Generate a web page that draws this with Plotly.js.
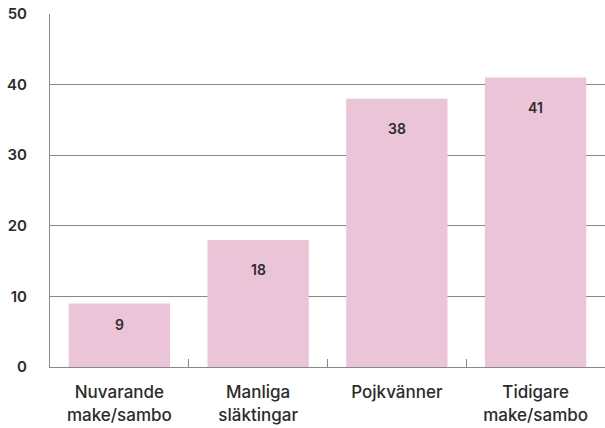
<!DOCTYPE html>
<html><head><meta charset="utf-8">
<script src="https://cdn.plot.ly/plotly-3.0.1.min.js"></script>
<style>html,body{margin:0;padding:0;background:#fff}#c{width:605px;height:428px}</style>
</head><body><div id="c"></div>
<script>
const categories = ["Nuvarande<br>make/sambo", "Manliga<br>släktingar", "Pojkvänner", "Tidigare<br>make/sambo"];
const values = [9, 18, 38, 41];
const yTicks = [0, 10, 20, 30, 40, 50];

const plotH = 428 - 14 - 61;
const pxPerUnit = plotH / 50;
const annotations = categories.map((c, i) => ({
  x: c, y: values[i], xref: 'x', yref: 'y',
  text: String(values[i]), showarrow: false,
  yanchor: 'middle', yshift: -Math.min(30, values[i] * pxPerUnit / 3),
  font: {family: 'Inter, sans-serif', size: 14, color: '#2b2b2b', weight: 600}
}));

Plotly.newPlot('c', [{
  type: 'bar', x: categories, y: values,
  marker: {color: '#ecc4d8'}, hoverinfo: 'none', width: 0.73
}], {
  width: 605, height: 428,
  margin: {l: 50, r: 0, t: 14, b: 61},
  paper_bgcolor: '#fff', plot_bgcolor: '#fff',
  showlegend: false,
  bargap: 0.27,
  xaxis: {
    type: 'category', showline: true, linecolor: '#888', linewidth: 1,
    ticks: 'inside', tickson: 'boundaries', ticklen: 8, tickcolor: '#888',
    showgrid: false, zeroline: false,
    tickfont: {family: 'Inter, sans-serif', size: 17, color: '#2b2b2b', weight: 500},
    ticklabelstandoff: 10
  },
  yaxis: {
    range: [0, 50], tickvals: yTicks, ticktext: yTicks.map(String),
    showline: true, linecolor: '#888', linewidth: 1,
    showgrid: true, gridcolor: '#888', gridwidth: 1, zeroline: false,
    ticks: '', ticklabelstandoff: 19,
    tickfont: {family: 'Inter, sans-serif', size: 15, color: '#2b2b2b', weight: 600}
  },
  annotations: annotations
}, {displayModeBar: false, staticPlot: true});
</script></body></html>
